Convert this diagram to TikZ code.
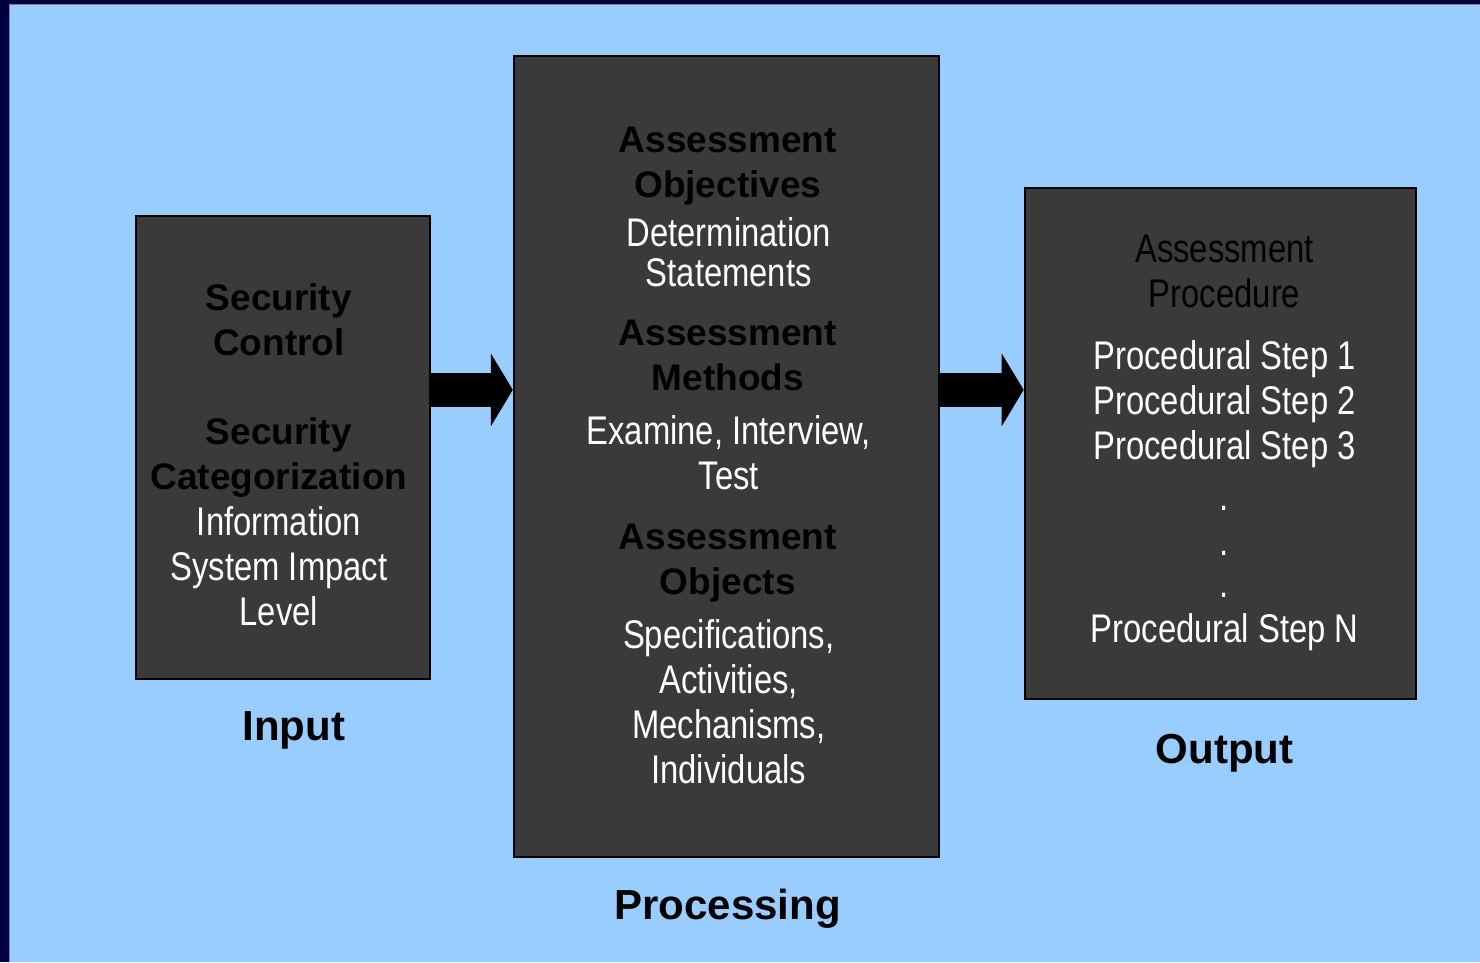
\documentclass[tikz,border=0pt]{standalone}
\usepackage{fontspec}
\setmainfont{Liberation Sans}
\newfontfamily\narrowfont[FakeStretch=0.82]{Liberation Sans}
\usetikzlibrary{arrows.meta,positioning,calc}
\definecolor{Navy}{HTML}{000040}
\definecolor{SkyBg}{HTML}{99CCFF}
\definecolor{BoxGrey}{HTML}{3A3A3A}

\begin{document}
\begin{tikzpicture}[
        x=0.5pt, y=-0.5pt,
        box/.style={draw=black, line width=1pt, fill=BoxGrey, inner sep=0pt},
        head/.style={font=\bfseries\fontsize{18.5}{22.5}\selectfont, text=black, align=center},
        body/.style={font=\narrowfont\fontsize{20}{22.5}\selectfont, text=white, align=center},
        caption/.style={font=\bfseries\fontsize{21}{25}\selectfont, text=black},
        bigarrow/.style={line width=17pt, -{Triangle[length=11pt, width=36pt]}}
    ]
        % background and frame
        \fill[Navy] (0,0) rectangle (1480,962);
        \fill[SkyBg] (10,5) rectangle (1480,962);
        \draw[gray, line width=0.5pt] (9.5,962) -- (9.5,4.5) -- (1480,4.5);

        % the three boxes
        \node[box, minimum width=147pt, minimum height=231.5pt] (inbox) at (283,447.5) {};
        \node[box, minimum width=212.5pt, minimum height=400.5pt] (procbox) at (726.5,456.5) {};
        \node[box, minimum width=195.5pt, minimum height=255.5pt] (outbox) at (1220.5,443.5) {};

        % input text
        \node[head] (incontrol) at (279,320) {Security\\Control};
        \node[head] (incat) at (279,458) {Security\\Categorization};
        \node[body] (inlevel) at (279,566) {Information\\System Impact\\Level};

        % processing text
        \node[head] (objhead) at (728,166) {Assessment\\Objectives};
        \node[body, font=\narrowfont\fontsize{20}{20}\selectfont] (objbody) at (729,252) {Determination\\Statements};
        \node[head] (methhead) at (728,356) {Assessment\\Methods};
        \node[body] (methbody) at (729,453) {Examine, Interview,\\Test};
        \node[head] (objshead) at (728,563) {Assessment\\Objects};
        \node[body] (objsbody) at (729,702) {Specifications,\\Activities,\\Mechanisms,\\Individuals};

        % output text
        \node[body, text=black] (prochead) at (1225,272) {Assessment\\Procedure};
        \node[body] (steps) at (1225,404) {Procedural Step 1\\Procedural Step 2\\Procedural Step 3};
        \foreach \y [count=\i] in {509,554,596}
            \node[body] (dot\i) at (1224,\y) {.};
        \node[body] (stepn) at (1225,632) {Procedural Step N};

        % captions
        \node[caption] (inlabel) at (294,731) {Input};
        \node[caption] (proclabel) at (728,909) {Processing};
        \node[caption] (outlabel) at (1225,753) {Output};

        % arrows
        \coordinate (arrowrow) at (0,390);
        \draw[bigarrow] (inbox.east |- arrowrow) -- (procbox.west |- arrowrow);
        \draw[bigarrow] (procbox.east |- arrowrow) -- (outbox.west |- arrowrow);
    \end{tikzpicture}
\end{document}
